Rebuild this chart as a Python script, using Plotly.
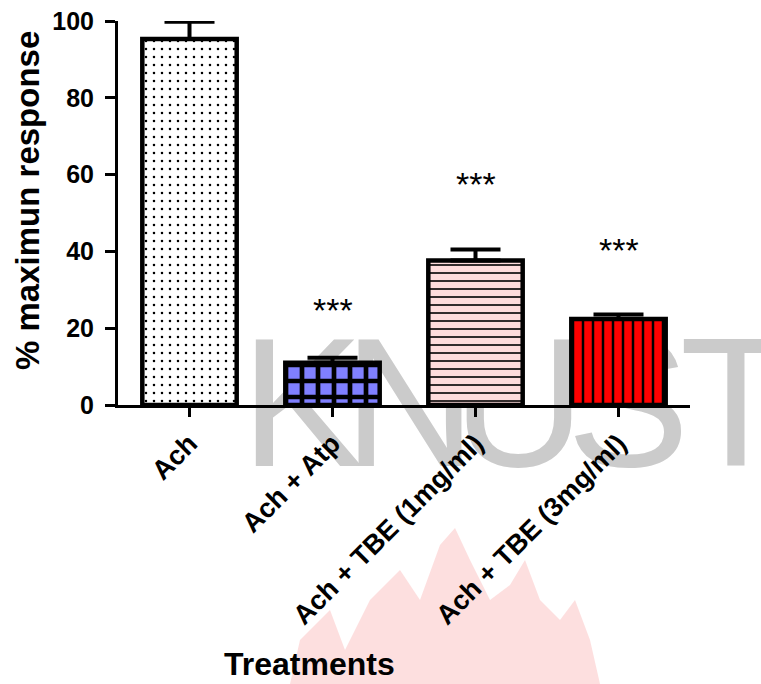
import plotly.graph_objects as go

# ---------------- data ----------------
categories = ["Ach", "Ach + Atp", "Ach + TBE (1mg/ml)", "Ach + TBE (3mg/ml)"]
means = [95.3, 11.0, 37.6, 22.4]
sem = [4.5, 1.3, 2.9, 1.2]
stars = ["", "***", "***", "***"]
star_y = [0, 25.6, 58.4, 41.1]
y_ticks = [0, 20, 40, 60, 80, 100]

fill_colors = ["#ffffff", "#8080ff", "#ffdcdc", "#ff0000"]
pattern_shapes = [".", "+", "-", "|"]
pattern_sizes = [8, 16, 8, 10]
pattern_solidity = [0.08, 0.5, 0.2, 0.25]

watermark_letters = ["K", "N", "U", "S", "T"]

# ---------------- layout geometry (pixels) ----------------
W, H = 761, 684
L, R, T, B = 118, 71, 21, 279

FONT = "Liberation Sans, Arial, sans-serif"

fig = go.Figure()

# background watermark, drawn on a full-page pixel subplot beneath the chart
wm_centers = [302, 410, 519, 628, 736]
fig.add_trace(go.Scatter(
    x=wm_centers, y=[420] * len(wm_centers),
    xaxis="x", yaxis="y",
    mode="text", text=watermark_letters, textposition="middle center",
    textfont=dict(family=FONT, size=184, color="#cbcbcb"),
    cliponaxis=False, hoverinfo="skip", showlegend=False,
))

flame_x = [290, 300, 330, 345, 370, 400, 420, 440, 455, 470, 490, 510, 525, 540, 560, 575, 590, 600]
flame_y = [684, 640, 610, 650, 600, 570, 600, 545, 528, 560, 600, 585, 560, 600, 620, 600, 640, 684]
path = "M " + " L ".join(f"{a},{b}" for a, b in zip(flame_x, flame_y)) + " Z"

fig.add_trace(go.Bar(
    x=categories,
    y=means,
    xaxis="x2", yaxis="y2",
    width=0.66,
    marker=dict(
        color="white",
        line=dict(color="black", width=4.5),
        pattern=dict(shape=pattern_shapes, size=pattern_sizes,
                     solidity=pattern_solidity,
                     fgcolor="black",
                     bgcolor=fill_colors,
                     fgopacity=1,
                     fillmode="replace"),
    ),
    error_y=dict(type="data", array=sem, arrayminus=[0] * len(sem),
                 symmetric=False, thickness=4, width=25, color="black"),
    showlegend=False,
))

annotations = []
for c, s, yv in zip(categories, stars, star_y):
    if s:
        annotations.append(dict(x=c, y=yv, xref="x2", yref="y2", text=s,
                                showarrow=False, yshift=-3,
                                font=dict(family=FONT, size=34, color="black")))

annotations.append(dict(x=27, y=201, xref="x", yref="y",
                        text="% maximun response", textangle=-90,
                        showarrow=False, xanchor="center", yanchor="middle",
                        font=dict(family=FONT, size=33, color="black", weight="bold")))
annotations.append(dict(x=309, y=664, xref="x", yref="y",
                        text="Treatments", showarrow=False,
                        xanchor="center", yanchor="middle",
                        font=dict(family=FONT, size=32, color="black", weight="bold")))

shapes = [dict(type="path", xref="x", yref="y", path=path,
               fillcolor="rgba(245,110,110,0.22)", line=dict(width=0), layer="below")]

fig.update_layout(
    width=W, height=H,
    margin=dict(l=0, r=0, t=0, b=0, pad=0, autoexpand=False),
    paper_bgcolor="white",
    plot_bgcolor="rgba(0,0,0,0)",
    font=dict(family=FONT, color="black"),
    annotations=annotations,
    shapes=shapes,
    xaxis=dict(domain=[0, 1], range=[0, W], visible=False, fixedrange=True, automargin=False),
    yaxis=dict(domain=[0, 1], range=[H, 0], visible=False, fixedrange=True, automargin=False),
    xaxis2=dict(
        domain=[L / W, (W - R) / W], anchor="y2", automargin=False,
        type="category", range=[-0.5, 3.5],
        showline=True, linecolor="black", linewidth=3,
        ticks="outside", ticklen=9, tickwidth=3, tickcolor="black",
        tickangle=-45, showgrid=False, zeroline=False,
        tickfont=dict(family=FONT, size=27, color="black", weight="bold"),
    ),
    yaxis2=dict(
        domain=[B / H, (H - T) / H], anchor="x2", automargin=False,
        range=[0, 100], tickvals=y_ticks,
        showline=True, linecolor="black", linewidth=3,
        ticks="outside", ticklen=10, tickwidth=3, tickcolor="black",
        ticklabelstandoff=6,
        showgrid=False, zeroline=False,
        tickfont=dict(family=FONT, size=25, color="black", weight="bold"),
    ),
)

fig.write_html("out.html")
